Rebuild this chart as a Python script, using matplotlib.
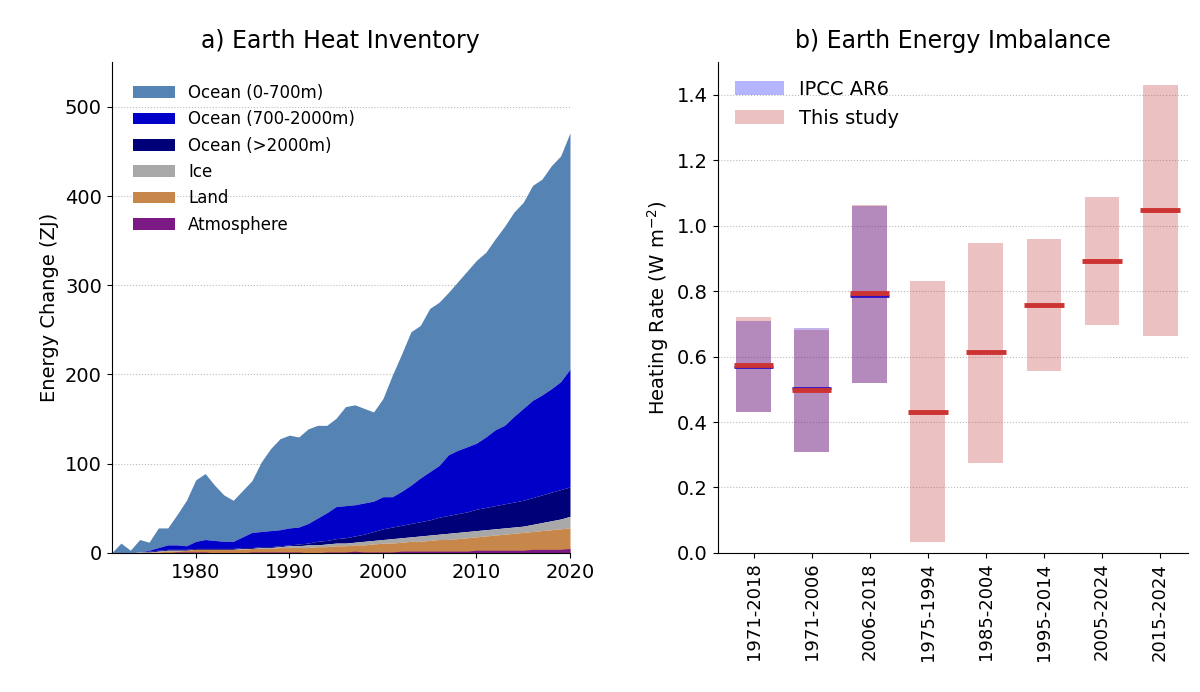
import numpy as np
from matplotlib import pyplot as plt
from matplotlib.patches import Patch

# Earth heat inventory, cumulative tops of each layer (ZJ), 1971-2020
years = np.arange(1971, 2021)
top_total = [0,11,3,15,12,28,28,43,59,82,89,76,65,59,70,81,102,117,128,132,130,139,143,143,151,
             164,166,162,158,173,199,223,248,255,274,281,292,304,316,328,337,352,366,382,393,412,419,434,445,471]
top_mid = [0,0,0,1,3,6,9,9,8,13,15,14,13,13,18,23,24,25,26,28,29,33,39,45,52,
           53,54,56,58,63,63,69,76,84,91,98,110,115,119,123,130,138,143,153,162,171,177,184,192,206]
top_deep = [0,0,0,1,2,3,4,4,4,5,5,5,5,5,
            6,6,7,7,8,9,10,11,13,14,16,17,19,21,24,
            27,29,31,33,35,37,40,42,44,46,49,51,53,55,57,59,62,65,68,71,74]
top_ice = [0,0,0,1,1,2,3,3,3,4,4,4,4,4,
           5,5,6,6,7,8,8,9,9,10,11,11,12,13,14,
           15,16,17,18,19,20,21,22,23,24,25,26,27,28,29,30,32,34,36,38,41]
top_land = [0,0,0,0,1,1,2,2,3,4,4,4,4,4,
            4,5,5,5,6,6,6,6,7,7,8,8,9,9,10,
            11,11,12,13,13,14,15,15,16,17,18,19,20,21,22,23,24,25,26,27,28]
atmos = [0,0,0,0,0,0,0,1,1,1,1,0,0,0,
         0,1,1,1,1,1,1,0,0,1,1,1,2,1,1,
         1,1,2,2,2,2,2,2,2,2,3,3,3,3,3,3,4,4,4,4,5]

# Earth energy imbalance (W m-2)
periods = ["1971-2018", "1971-2006", "2006-2018", "1975-1994", "1985-2004", "1995-2014", "2005-2024", "2015-2024"]
study_lo = [0.43, 0.31, 0.52, 0.033, 0.275, 0.555, 0.697, 0.664]
study_hi = [0.72, 0.682, 1.063, 0.831, 0.949, 0.960, 1.088, 1.432]
study_mid = [0.575, 0.498, 0.794, 0.431, 0.613, 0.757, 0.892, 1.048]
ipcc_lo = [0.43, 0.31, 0.52]
ipcc_hi = [0.71, 0.689, 1.06]
ipcc_mid = [0.568, 0.503, 0.786]

fig = plt.figure(figsize=(12, 6.92), dpi=100)

# a) stacked areas
ax1 = fig.add_axes([0.093, 0.201, 0.382, 0.709])
tops = [atmos, top_land, top_ice, top_deep, top_mid, top_total]
lows = [np.zeros(len(years)), np.zeros(len(years)), top_land, top_ice, top_deep, top_mid]
colors = ["#7b1a85", "#c8874a", "#a8a8a8", "#000078", "#0000c8", "#5583b3"]
labels = ["Atmosphere", "Land", "Ice", "Ocean (>2000m)", "Ocean (700-2000m)", "Ocean (0-700m)"]
order = [5, 4, 3, 2, 1, 0]
handles = {}
for i in order:
    handles[i] = ax1.fill_between(years, lows[i], tops[i], color=colors[i], lw=0)
ax1.legend([handles[i] for i in order], [labels[i] for i in order], loc="upper left",
           frameon=False, fontsize=12, handlelength=2.5, borderpad=0.8)
ax1.set_xlim(1971, 2020)
ax1.set_ylim(0, 550)
ax1.set_xticks([1980, 1990, 2000, 2010, 2020])
ax1.set_yticks([0, 100, 200, 300, 400, 500])
ax1.yaxis.grid(True, ls=":", color="#bbbbbb", lw=0.8)
ax1.set_axisbelow(True)
ax1.set_ylabel("Energy Change (ZJ)", fontsize=14)
ax1.set_title("a) Earth Heat Inventory", fontsize=17, pad=10)
ax1.tick_params(labelsize=14)
for s in ["top", "right"]:
    ax1.spines[s].set_visible(False)

# b) imbalance bars
ax2 = fig.add_axes([0.598, 0.201, 0.392, 0.709])
x = np.arange(len(periods))
w = 0.6
ax2.bar(x, np.array(study_hi) - np.array(study_lo), bottom=study_lo, width=w,
        color=(0.75, 0.2, 0.2), alpha=0.3)
ax2.bar(x[:3], np.array(ipcc_hi) - np.array(ipcc_lo), bottom=ipcc_lo, width=w,
        color=(0.21, 0.03, 0.7), alpha=0.3)
ax2.hlines(ipcc_mid, x[:3] - 0.34, x[:3] + 0.34, color="#3010c0", lw=2)
ax2.hlines(study_mid, x - 0.34, x + 0.34, color="#cc3333", lw=3.5)
ax2.legend([Patch(color=(0.35, 0.35, 1.0), alpha=0.45, lw=0), Patch(color=(0.75, 0.2, 0.2), alpha=0.3, lw=0)],
           ["IPCC AR6", "This study"], loc="upper left", frameon=False, fontsize=14, handlelength=2.5)
ax2.set_xlim(-0.62, 7.48)
ax2.set_ylim(0, 1.5)
ax2.set_yticks(np.arange(0, 1.41, 0.2))
ax2.set_xticks(x)
ax2.set_xticklabels(periods, rotation=90)
ax2.yaxis.grid(True, ls=":", color="#bbbbbb", lw=0.8)
ax2.set_axisbelow(True)
ax2.set_ylabel("Heating Rate (W m$^{-2}$)", fontsize=14)
ax2.set_title("b) Earth Energy Imbalance", fontsize=17, pad=10)
ax2.tick_params(labelsize=14)
ax2.tick_params(axis="x", labelsize=13)
for s in ["top", "right"]:
    ax2.spines[s].set_visible(False)

plt.savefig("out.png", dpi=100)
